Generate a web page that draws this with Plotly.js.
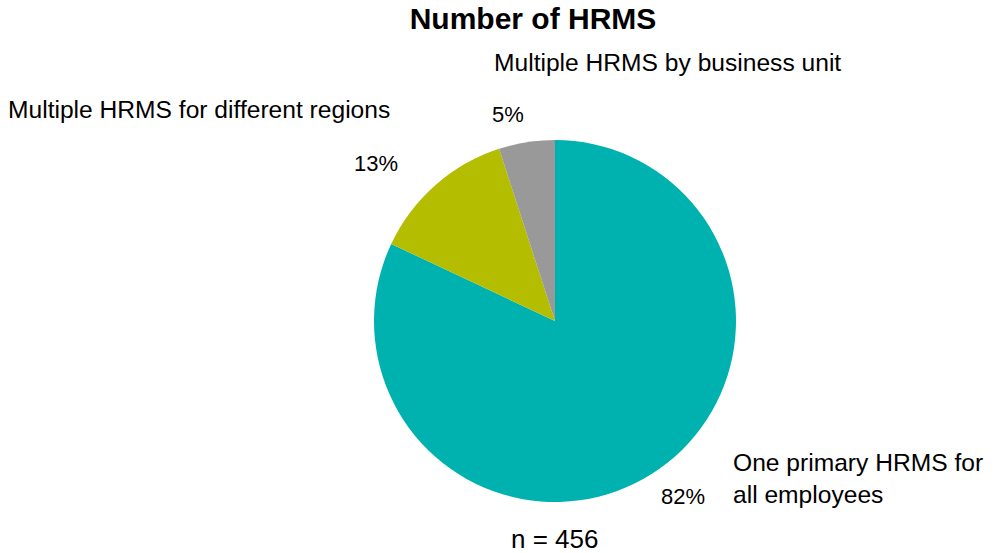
<!DOCTYPE html>
<html>
<head>
<meta charset="utf-8">
<script src="https://cdn.plot.ly/plotly-3.0.1.min.js"></script>
<style>html,body{margin:0;padding:0;background:#fff;}#chart{width:1002px;height:553px;}</style>
</head>
<body>
<div id="chart"></div>
<script>
// Data
const categories = ["One primary HRMS for<br>all employees", "Multiple HRMS for different regions", "Multiple HRMS by business unit"];
const shares = [82, 13, 5];
const sliceColors = ["#00B2AF", "#B5BD00", "#999999"];
const sampleNote = "n = 456";
const chartTitle = "Number of HRMS";

const W = 1002, H = 553;
const px = x => x / W;
const py = y => 1 - y / H;
const total = shares.reduce((a, b) => a + b, 0);
const pctText = shares.map(v => Math.round(v / total * 100) + "%");

// label placement (pixels): [category x, y, xanchor], [percent x, y]
const catPos = [[731, 478, "left"], [6, 109, "left"], [492, 63, "left"]];
const pctPos = [[683, 496], [376, 163], [508, 115]];

const annotations = [];
categories.forEach((c, i) => {
  annotations.push({text: c, xref: "paper", yref: "paper", x: px(catPos[i][0]), y: py(catPos[i][1]),
    xanchor: catPos[i][2], yanchor: "middle", align: "left", showarrow: false,
    font: {family: "Liberation Sans, Arial, sans-serif", size: 24.6, color: "#000"}});
  annotations.push({text: pctText[i], xref: "paper", yref: "paper", x: px(pctPos[i][0]), y: py(pctPos[i][1]),
    xanchor: "center", yanchor: "middle", showarrow: false,
    font: {family: "Liberation Sans, Arial, sans-serif", size: 22, color: "#000"}});
});
annotations.push({text: sampleNote, xref: "paper", yref: "paper", x: px(554), y: py(539),
  xanchor: "center", yanchor: "middle", showarrow: false,
  font: {family: "Liberation Sans, Arial, sans-serif", size: 26, color: "#000"}});

const trace = {
  type: "pie",
  labels: categories,
  values: shares,
  marker: {colors: sliceColors, line: {width: 0}},
  sort: false,
  direction: "clockwise",
  rotation: 0,
  textinfo: "none",
  hoverinfo: "label+percent",
  domain: {x: [px(374), px(736)], y: [py(502), py(140)]}
};

const layout = {
  width: W, height: H,
  margin: {l: 0, r: 0, t: 0, b: 0},
  paper_bgcolor: "#fff",
  showlegend: false,
  title: {text: "<b>" + chartTitle + "</b>", xref: "container", yref: "container",
    x: px(533), y: py(18), xanchor: "center", yanchor: "middle",
    font: {family: "Liberation Sans, Arial, sans-serif", size: 30, color: "#000"}},
  annotations: annotations
};

Plotly.newPlot("chart", [trace], layout, {displayModeBar: false, staticPlot: true});
</script>
</body>
</html>
